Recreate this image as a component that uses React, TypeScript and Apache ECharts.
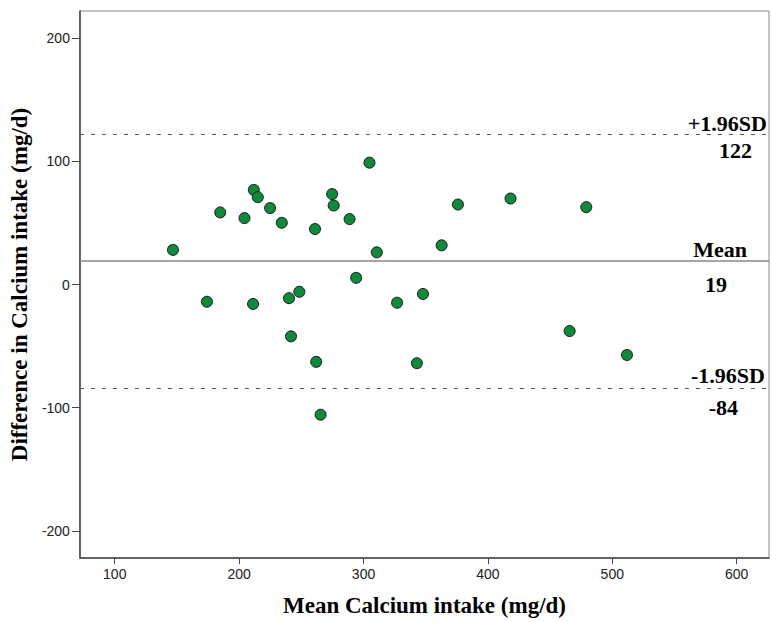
import React, { useEffect, useRef } from "react";
import * as echarts from "echarts";

const meanIntake: number[] = [
  146.8, 184.8, 204.3, 211.8, 215.0, 224.9, 234.3, 261.0, 274.8, 276.0,
  288.8, 304.8, 310.7, 362.8, 375.9, 418.2, 479.1, 294.1, 174.1, 211.2,
  240.1, 248.4, 327.0, 347.8, 241.7, 262.0, 342.9, 265.5, 465.7, 511.8,
];
const diffIntake: number[] = [
  28.1, 58.5, 53.9, 76.8, 70.9, 62.0, 50.1, 45.0, 73.4, 64.1,
  53.1, 98.9, 26.1, 31.8, 64.9, 69.8, 62.8, 5.4, -14.0, -15.8,
  -11.1, -5.9, -14.8, -7.7, -42.1, -62.8, -63.9, -105.7, -37.8, -57.2,
];
const xTicks: number[] = [100, 200, 300, 400, 500, 600];
const yTicks: number[] = [-200, -100, 0, 100, 200];
const limitNames: string[] = ["+1.96SD", "Mean", "-1.96SD"];
const limitValues: number[] = [122, 19, -84];

const serif = "'Liberation Serif', 'Times New Roman', serif";
const sans = "'Liberation Sans', Arial, sans-serif";

export default function App() {
  const ref = useRef<HTMLDivElement>(null);
  useEffect(() => {
    if (!ref.current) return;
    const chart = echarts.init(ref.current, undefined, { renderer: "svg" });
    const points = meanIntake.map((x, i) => [x, diffIntake[i]]);
    const labelStyle = {
      color: "#000",
      fontFamily: serif,
      fontWeight: "bold" as const,
      fontSize: 22,
    };
    const topDist = [
      [2, 0],
      [22, 1],
      [4, 1],
    ];
    const botDist = [
      [17, 5],
      [42, 12],
      [31, 9],
    ];
    const lineStyles = [
      { type: [4, 7], color: "#555", width: 1 },
      { type: "solid", color: "#888", width: 1.5 },
      { type: [4, 7], color: "#555", width: 1 },
    ];
    const mlData: any[] = [];
    limitValues.forEach((v, i) => {
      mlData.push({
        yAxis: v,
        lineStyle: lineStyles[i],
        label: {
          show: true,
          position: "insideEndTop",
          distance: topDist[i],
          formatter: limitNames[i],
          ...labelStyle,
        },
      });
      mlData.push({
        yAxis: v,
        lineStyle: { ...lineStyles[i], color: "rgba(0,0,0,0)" },
        label: {
          show: true,
          position: "insideEndBottom",
          distance: botDist[i],
          formatter: String(v),
          ...labelStyle,
        },
      });
    });
    chart.setOption({
      animation: false,
      backgroundColor: "#fff",
      grid: {
        left: 79,
        right: 2,
        top: 11,
        bottom: 62,
        show: true,
        borderColor: "#888",
        borderWidth: 1,
        backgroundColor: "#fff",
      },
      xAxis: {
        type: "value",
        min: 72,
        max: 626,
        name: "Mean Calcium intake (mg/d)",
        nameLocation: "middle",
        nameGap: 36,
        nameTextStyle: { fontFamily: serif, fontWeight: "bold", fontSize: 23, color: "#000" },
        axisLine: { show: true, onZero: false, lineStyle: { color: "#444", width: 1.5 } },
        axisTick: { show: true, length: 6, lineStyle: { color: "#444" }, customValues: xTicks },
        axisLabel: { customValues: xTicks, fontFamily: sans, fontSize: 14, color: "#222", margin: 9 },
        splitLine: { show: false },
      },
      yAxis: {
        type: "value",
        min: -222,
        max: 222,
        name: "Difference in Calcium intake (mg/d)",
        nameLocation: "middle",
        nameGap: 48,
        nameTextStyle: { fontFamily: serif, fontWeight: "bold", fontSize: 23, color: "#000" },
        axisLine: { show: true, onZero: false, lineStyle: { color: "#444", width: 1.5 } },
        axisTick: { show: true, length: 8, lineStyle: { color: "#444" }, customValues: yTicks },
        axisLabel: { customValues: yTicks, fontFamily: sans, fontSize: 14, color: "#222", margin: 10 },
        splitLine: { show: false },
      },
      series: [
        {
          type: "scatter",
          data: points,
          symbolSize: 11,
          itemStyle: { color: "#0f8a3c", borderColor: "#1a1a1a", borderWidth: 1, opacity: 1 },
          markLine: {
            silent: true,
            symbol: "none",
            data: mlData,
          },
        },
      ],
    });
    return () => chart.dispose();
  }, []);
  return <div ref={ref} style={{ width: 771, height: 622, position: "absolute", left: 0, top: 0 }} />;
}
